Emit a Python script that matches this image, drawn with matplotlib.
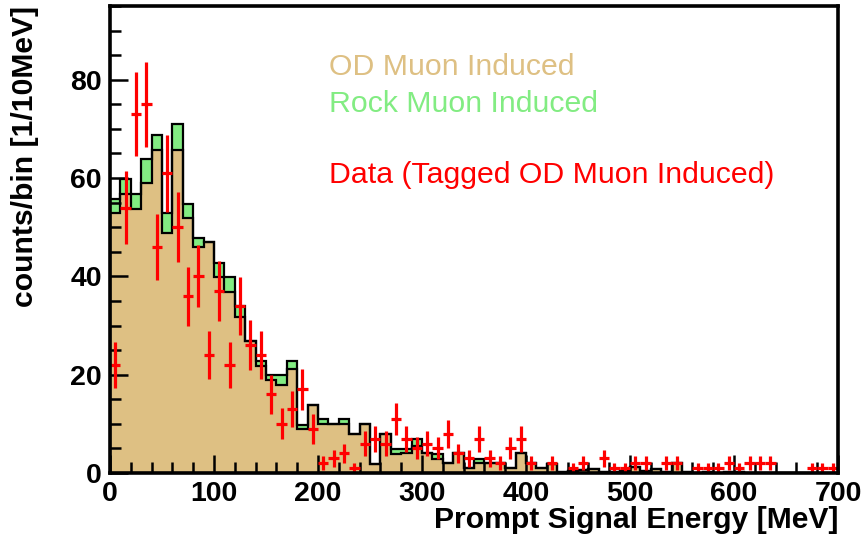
#!/usr/bin/env python3
"""Prompt signal energy: MC stack (OD / rock muon induced) vs tagged data."""

import matplotlib
matplotlib.use('Agg')
import matplotlib.pyplot as plt
from matplotlib.ticker import MultipleLocator
import numpy as np

plt.rcParams['font.family'] = ['Liberation Sans', 'DejaVu Sans']

# 10 MeV bins, 0-700 MeV
bin_edges = np.arange(0, 710, 10)

# OD muon induced (tan, bottom of stack)
od_counts = [
    52.8, 56.7, 53.8, 58.9, 65.8, 48.8, 65.8, 51.8, 45.9, 46.9,
    39.9, 36.9, 31.8, 26.9, 21.8, 19.0, 17.9, 21.1, 8.9, 13.8,
    10.0, 10.0, 10.0, 7.9, 10.0, 1.8, 7.9, 3.9, 4.1, 5.4,
    4.0, 2.8, 2.0, 4.0, 0.95, 2.0, 2.0, 2.0, 1.0, 4.0,
    2.0, 1.0, 1.8, 0.3, 0.4, 0.6, 0.8, 0.3, 0.2, 0.5,
    1.2, 0.4, 0.8, 0.3, 2.0, 0.2, 0.1, 0.2, 0.1, 0.2,
    0.3, 0.1, 0.1, 0.1, 0, 0, 0, 0, 0, 0,
]

# Rock muon induced (green, stacked on top)
rock_counts = [
    2.9, 3.1, 2.9, 4.9, 3.0, 4.0, 5.1, 3.0, 2.0, 0,
    2.9, 3.0, 2.2, 0, 1.0, 0.9, 2.0, 1.7, 0.9, 0,
    0.9, 0, 0.9, 0, 0, 0, 0, 1.0, 0.8, 1.5,
    0, 1.1, 0, 0, 0, 0.8, 0, 0, 0, 0,
    0, 0, 0, 0, 0, 0, 0, 0, 0, 0,
    0, 0, 0, 0, 0, 0, 0, 0, 0, 0,
    0, 0, 0, 0, 0, 0, 0, 0, 0, 0,
]

# Data (tagged OD muon induced), entries per bin
data_counts = [
    22, 54, 73, 75, 46, 61, 50, 36, 40, 24,
    37, 22, 34, 26, 24, 16, 10, 13, 17, 9,
    2, 3, 4, 1, 6, 7, 6, 11, 7, 5,
    6, 5, 8, 4, 3, 7, 3, 2, 5, 7,
    2, 0, 2, 0, 1, 2, 0, 3, 1, 1,
    2, 2, 0, 2, 2, 0, 1, 1, 1, 2,
    1, 2, 2, 2, 0, 0, 0, 1, 1, 1,
]

TAN = '#dec083'
GREEN = '#82ec82'
RED = '#ff0000'

od = np.array(od_counts, dtype=float)
total = od + np.array(rock_counts, dtype=float)
data = np.array(data_counts, dtype=float)
centers = 0.5 * (bin_edges[:-1] + bin_edges[1:])

fig = plt.figure(figsize=(8.66, 5.43), dpi=100)
ax = fig.add_axes([110 / 866, 70 / 543, 728 / 866, 467 / 543])

ax.stairs(total, bin_edges, fill=True, facecolor=GREEN, edgecolor='none', zorder=1)
ax.stairs(od, bin_edges, fill=True, facecolor=TAN, edgecolor='none', zorder=1.1)
ax.stairs(total, bin_edges, color='black', linewidth=1.6, zorder=1.2)
ax.stairs(od, bin_edges, color='black', linewidth=1.6, zorder=1.3)

mask = data > 0
ax.errorbar(centers[mask], data[mask], xerr=5, yerr=np.sqrt(data[mask]),
            fmt='none', ecolor=RED, elinewidth=2.3, capsize=0, zorder=3)

ax.set_xlim(0, 700)
ax.set_ylim(0, 95)
ax.xaxis.set_major_locator(MultipleLocator(100))
ax.xaxis.set_minor_locator(MultipleLocator(20))
ax.yaxis.set_major_locator(MultipleLocator(20))
ax.yaxis.set_minor_locator(MultipleLocator(5))
ax.tick_params(which='both', direction='in', top=False, right=False, width=1.8,
               labelsize=20.5)
ax.tick_params(which='major', length=13, pad=6)
ax.tick_params(which='minor', length=8)
for lab in ax.get_xticklabels() + ax.get_yticklabels():
    lab.set_fontweight('bold')
for sp in ax.spines.values():
    sp.set_linewidth(2.6)
    sp.set_zorder(4)

ax.set_xlabel('Prompt Signal Energy [MeV]', fontsize=21.7, fontweight='bold', loc='right')
ax.xaxis.set_label_coords(1.0, -0.07)
ax.set_ylabel('counts/bin [1/10MeV]', fontsize=21.7, fontweight='bold', loc='top')
ax.yaxis.set_label_coords(-0.097, 1.0)

ax.text(0.301, 0.852, 'OD Muon Induced', color=TAN, fontsize=21.8,
        transform=ax.transAxes, va='baseline')
ax.text(0.301, 0.774, 'Rock Muon Induced', color=GREEN, fontsize=21.8,
        transform=ax.transAxes, va='baseline')
ax.text(0.301, 0.621, 'Data (Tagged OD Muon Induced)', color=RED, fontsize=21.8,
        transform=ax.transAxes, va='baseline')

fig.savefig('out.png', dpi=100)
